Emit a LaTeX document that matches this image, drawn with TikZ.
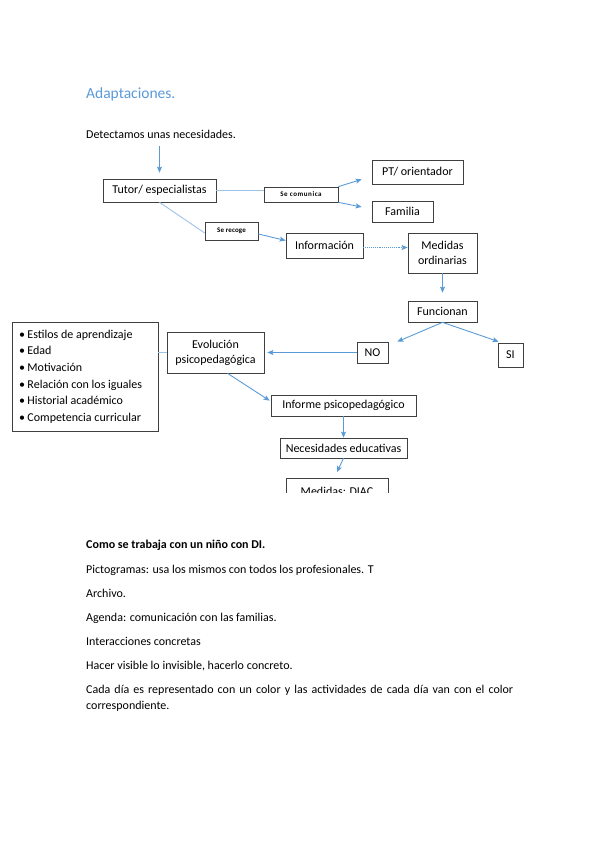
\documentclass[tikz,border=0pt]{standalone}
\usepackage{fontspec}
\setmainfont{Carlito}
\usetikzlibrary{arrows.meta,positioning,calc}
\definecolor{flecha}{HTML}{5B9BD5}
\definecolor{lineaclara}{HTML}{9DC3E6}
\definecolor{titulo}{HTML}{5A9AD8}
\begin{document}
\begin{tikzpicture}[x=1pt,y=-1pt,font=\fontsize{12}{15}\selectfont,
box/.style={draw=black!75, line width=0.7pt, fill=white, inner sep=2pt, align=center},
tiny/.style={box, font=\fontsize{7}{8}\selectfont\bfseries\addfontfeatures{LetterSpace=#1}},
arr/.style={draw=flecha, line width=0.9pt, -{Stealth[length=6pt,width=5pt,inset=1.2pt]}},
lin/.style={draw=lineaclara, line width=0.9pt},
texto/.style={anchor=base west, inner sep=0pt}]
\useasboundingbox (0,0) rectangle (599,848);

% encabezados
\node[texto, font=\fontsize{15.5}{17}\selectfont, text=titulo] (tit) at (86,98.5) {Adaptaciones.};
\node[texto] (detect) at (86,139) {Detectamos unas necesidades.};
\coordinate (inicio) at (159.5,146);

% cajas
\node[box, minimum width=113, minimum height=23] (tutor) at (159.5,190.5) {Tutor/ especialistas};
\node[tiny=8, minimum width=74, minimum height=15] (secom) at (301,194.5) {Se comunica};
\node[box, minimum width=91, minimum height=24] (pt) at (417.5,172) {PT/ orientador};
\node[box, minimum width=61, minimum height=21] (familia) at (402.5,211.5) {Familia};
\node[tiny=2, minimum width=53, minimum height=18] (serecoge) at (231.5,231) {Se recoge};
\node[box, minimum width=77, minimum height=25] (info) at (324.5,245.5) {Información};
\node[box, minimum width=69, minimum height=40] (medidas) at (442.5,253) {Medidas\\ordinarias};
\node[box, minimum width=69, minimum height=21] (funcionan) at (442.5,311.5) {Funcionan};
\node[box, minimum width=31, minimum height=21] (no) at (372.5,352.5) {NO};
\node[box, minimum width=25, minimum height=24] (si) at (510.5,355) {SI};
\node[box, minimum width=97, minimum height=41] (evol) at (215.5,352.5) {Evolución\\psicopedagógica};
\node[box, text width=132, minimum height=109, inner xsep=7pt, align=flush left,
      font=\fontsize{12}{16.6}\selectfont] (lista) at (85,376.5)
  {\textbullet\hspace{2.5pt}Estilos de aprendizaje\\
   \textbullet\hspace{2.5pt}Edad\\
   \textbullet\hspace{2.5pt}Motivación\\
   \textbullet\hspace{2.5pt}Relación con los iguales\\
   \textbullet\hspace{2.5pt}Historial académico\\
   \textbullet\hspace{2.5pt}Competencia curricular};
\node[box, minimum width=145, minimum height=21] (informe) at (343.5,405.5) {Informe psicopedagógico};
\node[box, minimum width=127, minimum height=20] (necesidades) at (343.5,448) {Necesidades educativas};
\begin{scope}
\clip (0,0) rectangle (599,492);
\node[box, anchor=north, minimum width=102, minimum height=26] (diac) at (337,478) {Medidas: DIAC};
\end{scope}

% conectores
\draw[arr] (inicio) -- ([yshift=6pt]inicio |- tutor.north);
\draw[lin] (tutor.east) -- (tutor.east -| secom.west);
\draw[arr] (secom.north east) -- ($(pt.south west)+(-10,-5)$);
\draw[arr] (secom.south east) -- ($(familia.west)+(-10,-4.5)$);
\draw[lin] (tutor.south) -- ([yshift=-2pt]serecoge.west);
\draw[arr] ([yshift=-3pt]serecoge.east) -- ([yshift=5pt]info.west);
\draw[arr, densely dotted] ([yshift=-2pt]info.east) -- ([yshift=-2pt]info.east -| medidas.west);
\draw[arr] (medidas.south) -- ([yshift=8pt]funcionan.north);
\draw[arr] (funcionan.south) -- ($(no.north east)+(9,0)$);
\draw[arr] (funcionan.south) -- ($(si.north west)+(1,-1)$);
\draw[arr] (no.west) -- ([xshift=3pt]evol.east);
\draw[lin] (evol.west -| lista.east) -- (evol.west);
\draw[arr] ($(evol.south)+(12,0)$) -- ($(informe.north west)+(-1,6)$);
\draw[arr] (informe.south) -- (necesidades.north);
\draw[arr] (necesidades.south) -- ([yshift=6pt]diac.north);

% texto inferior
\node[texto, font=\fontsize{12}{15}\selectfont\bfseries] (como) at (86,548) {Como se trabaja con un niño con DI.};
\node[texto] (picto) at (86,573.5) {Pictogramas: usa los mismos con todos los profesionales. T};
\node[texto] (archivo) at (86,597) {Archivo.};
\node[texto] (agenda) at (86,621.5) {Agenda: comunicación con las familias.};
\node[texto] (inter) at (86,645.5) {Interacciones concretas};
\node[texto] (hacer) at (86,669.5) {Hacer visible lo invisible, hacerlo concreto.};
\node[texto] (cada) at (86,693) {\makebox[427pt][s]{Cada día es representado con un color y las actividades de cada día van con el color}};
\node[texto] (corresp) at (86,709.5) {correspondiente.};
\end{tikzpicture}
\end{document}
